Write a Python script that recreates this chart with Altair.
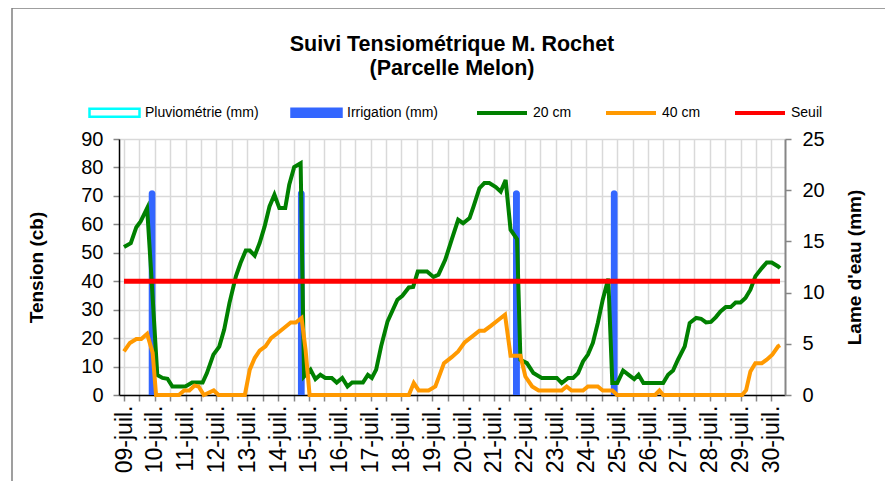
import altair as alt
import pandas as pd

# ---------------- data ----------------
bar_series = ["Pluviométrie (mm)", "Irrigation (mm)"]
bar_fills = ["#FFFFFF", "#3366FF"]
bar_strokes = ["#00FFFF", "#3366FF"]
line_series = ["20 cm", "40 cm", "Seuil"]
line_colors = ["#008000", "#FF9900", "#FF0000"]

day_labels = ["09-juil.", "10-juil.", "11-juil.", "12-juil.", "13-juil.", "14-juil.",
              "15-juil.", "16-juil.", "17-juil.", "18-juil.", "19-juil.", "20-juil.",
              "21-juil.", "22-juil.", "23-juil.", "24-juil.", "25-juil.", "26-juil.",
              "27-juil.", "28-juil.", "29-juil.", "30-juil."]

# (days since 09-juil. 00:00, tension cb)
tension_20cm = [
    (0.00, 52.0), (0.22, 53.4), (0.40, 59.0), (0.54, 61.0), (0.75, 65.7), (0.87, 45.0),
    (1.08, 7.0), (1.25, 6.0), (1.41, 5.7), (1.57, 3.0), (1.99, 3.0), (2.21, 4.4),
    (2.55, 4.4), (2.69, 7.7), (2.90, 14.2), (3.09, 17.0), (3.25, 23.0), (3.42, 32.3),
    (3.63, 41.7), (3.78, 46.4), (3.95, 50.8), (4.08, 50.8), (4.24, 49.0), (4.40, 53.4),
    (4.56, 59.2), (4.72, 66.3), (4.88, 70.4), (5.04, 65.7), (5.23, 65.7), (5.36, 73.9),
    (5.52, 80.1), (5.73, 81.5), (5.84, 6.5), (6.05, 8.9), (6.21, 5.6), (6.37, 7.1),
    (6.53, 6.0), (6.74, 6.0), (6.90, 4.4), (7.08, 6.0), (7.25, 3.0), (7.40, 4.4),
    (7.75, 4.4), (7.91, 7.1), (8.04, 6.0), (8.18, 8.9), (8.34, 17.1), (8.55, 25.9),
    (8.87, 33.5), (9.03, 34.9), (9.24, 37.8), (9.38, 38.0), (9.53, 43.4), (9.83, 43.4),
    (10.04, 41.5), (10.20, 42.3), (10.42, 47.5), (10.63, 54.6), (10.84, 61.6), (11.00, 60.4),
    (11.21, 62.2), (11.34, 66.3), (11.53, 72.7), (11.69, 74.5), (11.85, 74.5), (12.06, 73.1),
    (12.22, 71.5), (12.38, 75.6), (12.54, 58.1), (12.75, 54.8), (12.86, 12.4), (13.07, 11.2),
    (13.28, 7.7), (13.55, 6.0), (14.04, 6.0), (14.20, 4.2), (14.41, 6.0), (14.57, 6.0),
    (14.73, 7.7), (14.89, 11.8), (15.05, 14.2), (15.21, 18.3), (15.37, 25.3), (15.53, 33.5),
    (15.71, 40.9), (15.84, 4.2), (16.00, 4.2), (16.19, 8.6), (16.37, 7.1), (16.55, 5.6),
    (16.69, 7.1), (16.85, 4.2), (17.49, 4.2), (17.65, 7.1), (17.81, 8.6), (17.97, 12.4),
    (18.19, 17.1), (18.35, 25.3), (18.56, 27.1), (18.72, 26.8), (18.88, 25.5), (19.04, 25.7),
    (19.20, 27.4), (19.35, 29.4), (19.52, 30.9), (19.68, 30.9), (19.84, 32.5), (20.00, 32.5),
    (20.16, 34.1), (20.32, 37.0), (20.48, 41.7), (20.69, 44.6), (20.85, 46.6), (21.01, 46.6),
    (21.22, 45.2), (21.28, 44.6),
]

tension_40cm = [
    (0.00, 15.3), (0.19, 18.3), (0.40, 19.7), (0.56, 19.7), (0.75, 21.5), (0.93, 14.8),
    (1.04, 0.0), (1.78, 0.0), (1.95, 1.6), (2.12, 1.6), (2.29, 3.3), (2.42, 3.0),
    (2.59, 0.0), (2.91, 1.6), (3.07, 0.0), (3.92, 0.0), (4.08, 8.9), (4.24, 13.0),
    (4.40, 15.6), (4.59, 17.1), (4.77, 20.0), (4.99, 21.8), (5.25, 24.1), (5.41, 25.5),
    (5.57, 25.5), (5.76, 27.1), (5.89, 15.9), (6.02, 0.0), (9.24, 0.0), (9.40, 4.2),
    (9.56, 1.6), (9.88, 1.6), (10.10, 3.0), (10.38, 11.2), (10.63, 13.3), (10.84, 15.3),
    (11.05, 18.5), (11.32, 20.8), (11.53, 22.6), (11.69, 22.6), (11.90, 24.3), (12.12, 26.2),
    (12.36, 28.2), (12.54, 13.8), (12.86, 13.8), (13.02, 6.5), (13.24, 3.0), (13.45, 1.6),
    (14.20, 1.6), (14.36, 3.0), (14.52, 1.6), (14.89, 1.6), (15.05, 3.0), (15.37, 3.0),
    (15.53, 1.6), (15.84, 1.6), (16.00, 0.0), (17.23, 0.0), (17.37, 1.6), (17.49, 0.0),
    (20.05, 0.0), (20.18, 1.7), (20.32, 8.3), (20.48, 11.2), (20.69, 11.2), (20.85, 12.4),
    (21.03, 14.2), (21.22, 17.1), (21.28, 17.5),
]

seuil = [(0.0, 40.0), (21.28, 40.0)]

irrigation_days = [0.91, 5.75, 12.73, 15.90]
irrigation_mm = [20, 20, 20, 20]

# ---------------- tables ----------------
rows = []
for name, pts in [("20 cm", tension_20cm), ("40 cm", tension_40cm)]:
    for t, v in pts:
        rows.append({"t": t, "v": v, "serie": name})
lines_df = pd.DataFrame(rows)
seuil_df = pd.DataFrame([{"t": t, "v": v, "serie": "Seuil"} for t, v in seuil])
irr_df = pd.DataFrame({"t": irrigation_days, "mm": irrigation_mm,
                       "bserie": ["Irrigation (mm)"] * len(irrigation_days)})

X_MAX = 21.28
FONT = "Liberation Sans"
x_ticks = [i * 0.5 for i in range(43)]
label_arr = "[" + ",".join("'%s'" % s for s in day_labels) + "]"
label_expr = "datum.value % 1 === 0 ? " + label_arr + "[datum.value] : ''"

x_enc = alt.X(
    "t:Q",
    scale=alt.Scale(domain=[0, X_MAX], nice=False, zero=False),
    axis=alt.Axis(values=x_ticks, labelExpr=label_expr, labelAngle=270, title=None,
                  grid=True, gridColor="#D9D9D9", gridWidth=1.5,
                  domainColor="black", domainWidth=1.5, tickColor="#868686",
                  tickSize=6, tickWidth=1.5, labelFontSize=23, labelPadding=4,
                  labelOverlap=False, labelFlush=False, labelColor="black"),
)

legend_common = dict(orient="none", legendY=-53, direction="horizontal", title=None,
                     symbolSize=2500, labelFontSize=14, labelOffset=4, labelLimit=0,
                     labelFont=FONT, labelColor="black", padding=0)

bar_legend = alt.Legend(legendX=-31, symbolType="M-1,-0.16H1V0.16H-1Z",
                        symbolStrokeWidth=2.5, columnPadding=27, **legend_common)

bars = alt.Chart(irr_df).mark_bar(
    size=7, strokeWidth=1, cornerRadiusTopLeft=4, cornerRadiusTopRight=4
).encode(
    x=x_enc,
    y=alt.Y("mm:Q", scale=alt.Scale(domain=[0, 25], nice=False),
            axis=alt.Axis(orient="right", values=[0, 5, 10, 15, 20, 25],
                          title="Lame d'eau (mm)", titleAngle=270, grid=False,
                          domainColor="#868686", domainWidth=2, tickColor="#868686",
                          tickSize=6, tickWidth=1.5, labelPadding=11, titlePadding=40,
                          labelFontSize=20, titleFontSize=19, labelColor="black",
                          titleColor="black")),
    fill=alt.Fill("bserie:N", scale=alt.Scale(domain=bar_series, range=bar_fills),
                  legend=bar_legend),
    stroke=alt.Stroke("bserie:N", scale=alt.Scale(domain=bar_series, range=bar_strokes),
                      legend=bar_legend),
)

y_left = alt.Y("v:Q", scale=alt.Scale(domain=[0, 90], nice=False),
               axis=alt.Axis(orient="left", values=list(range(0, 91, 10)),
                             title="Tension (cb)", grid=True, gridColor="#D9D9D9",
                             gridWidth=1.5, domainColor="black", domainWidth=1.5,
                             tickColor="#868686", tickSize=6, tickWidth=1.5,
                             labelPadding=10, titlePadding=34, labelFontSize=20,
                             titleFontSize=19, labelColor="black", titleColor="black"))

color_enc = alt.Color(
    "serie:N",
    scale=alt.Scale(domain=line_series, range=line_colors),
    legend=alt.Legend(legendX=356, symbolType="stroke", symbolStrokeWidth=4,
                      columnPadding=26, **legend_common),
)

lines = alt.Chart(lines_df).mark_line(strokeWidth=4).encode(
    x=x_enc, y=y_left, color=color_enc
)
seuil_line = alt.Chart(seuil_df).mark_line(strokeWidth=5).encode(
    x=x_enc, y=y_left, color=color_enc
)

frame_src = pd.DataFrame({"k": [0]})
frame_top = alt.Chart(frame_src).mark_rule(color="#7F7F7F", strokeWidth=1.5).encode(
    x=alt.value(-107), x2=alt.value(800), y=alt.value(-131)
)
frame_left = alt.Chart(frame_src).mark_rule(color="#7F7F7F", strokeWidth=1.5).encode(
    x=alt.value(-107), y=alt.value(-131), y2=alt.value(400)
)

left_layers = alt.layer(lines, seuil_line)

chart = alt.layer(bars, left_layers, frame_top, frame_left).resolve_scale(
    y="independent"
).properties(
    width=666,
    height=256,
    padding={"left": 111, "top": 131, "right": 100, "bottom": 86},
    autosize=alt.AutoSizeParams(type="none"),
    title=alt.TitleParams(text=["Suivi Tensiométrique M. Rochet", "(Parcelle Melon)"],
                          fontSize=21.5, font=FONT, fontWeight="bold", anchor="middle",
                          frame="group", offset=-72, lineHeight=24, color="black"),
).configure(
    font=FONT,
).configure_axis(
    labelFont=FONT, titleFont=FONT, titleFontWeight="bold"
).configure_view(
    stroke=None
)

chart.save("out.html", embed_options={"renderer": "svg", "actions": False})
